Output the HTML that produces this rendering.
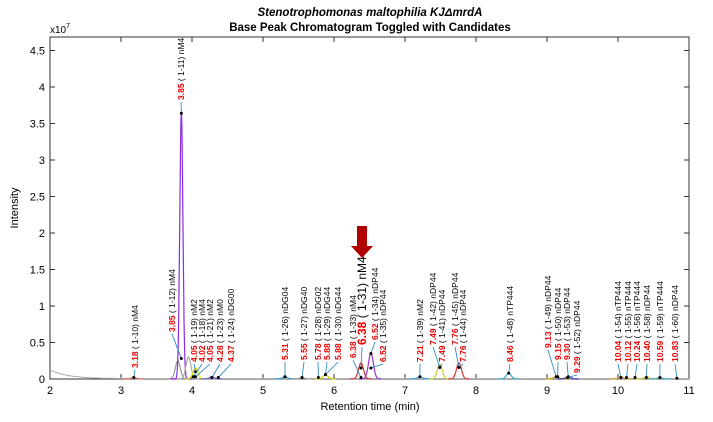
<!DOCTYPE html>
<html><head><meta charset="utf-8"><style>
body{margin:0;background:#fff;font-family:"Liberation Sans",Arial,sans-serif}
svg text{font-family:"Liberation Sans",Arial,sans-serif}
</style></head><body>
<svg id="chart" width="713" height="417" viewBox="0 0 713 417" xmlns="http://www.w3.org/2000/svg">
<text x="370" y="16" text-anchor="middle" font-size="11.5" font-weight="bold" font-style="italic">Stenotrophomonas maltophilia KJΔmrdA</text>
<text x="370" y="31" text-anchor="middle" font-size="11.5" font-weight="bold">Base Peak Chromatogram Toggled with Candidates</text>
<text x="50" y="33" font-size="10">x10<tspan dy="-5" font-size="7">7</tspan></text>
<text transform="translate(18,208) rotate(-90)" text-anchor="middle" font-size="11">Intensity</text>
<text x="370" y="410" text-anchor="middle" font-size="11">Retention time (min)</text>
<g id="plot"></g>
</svg>
<script>
const xTicks=[2,3,4,5,6,7,8,9,10,11];
const yTicks=[0,0.5,1,1.5,2,2.5,3,3.5,4,4.5];
const peakTimes=[3.18,3.80,3.85,3.95,4.05,4.28,5.31,5.55,5.88,6.38,6.52,7.21,7.49,7.76,8.46,9.13,9.30,10.04,10.40,10.59];
const peakHeights=[0.02,0.25,3.65,0.3,0.15,0.03,0.03,0.02,0.06,0.22,0.35,0.03,0.2,0.22,0.08,0.03,0.03,0.03,0.03,0.02];
const peakColors=["#e66","#999","#8a2be2","#aaa","#dd0","#66c","#39c","#999","#cc0","#c33","#93c","#39c","#cc3","#d33","#3ac","#c90","#33a","#c93","#cc3","#3ac"];
const candTimes=[3.18,3.85,3.85,4.05,4.02,4.05,4.28,4.37,5.31,5.55,5.78,5.88,5.88,6.38,6.38,6.52,6.52,7.21,7.49,7.49,7.76,7.76,8.46,9.13,9.15,9.30,9.29,10.04,10.12,10.24,10.40,10.59,10.83];
const candHeights=[0.02,3.64,0.28,0.1,0.03,0.03,0.02,0.02,0.03,0.02,0.02,0.06,0.06,0.02,0.15,0.35,0.15,0.03,0.16,0.16,0.16,0.16,0.08,0.03,0.03,0.03,0.02,0.02,0.02,0.02,0.02,0.02,0.01];
const candIds=["1-10","1-11","1-12","1-19","1-18","1-21","1-23","1-24","1-26","1-27","1-28","1-29","1-30","1-33","1-31","1-34","1-35","1-39","1-42","1-41","1-45","1-44","1-48","1-49","1-50","1-53","1-52","1-54","1-55","1-56","1-58","1-59","1-60"];
const candNames=["nM4","nM4","nM4","nM2","nM4","nM2","nM0","nDG00","nDG04","nDG40","nDG02","nDG44","nDG44","nM4","nM4","nDP44","nDP44","nM2","nDP44","nDP44","nDP44","nDP44","nTP444","nDP44","nDP44","nDP44","nDP44","nTP444","nTP444","nTP444","nDP44","nTP444","nDP44"];
const labelX=[135,181,172,194,202,210,220,231,285,304,318,327,338,353,362,375,383,420,433,442,455,463,510,548,558,567,577,618,628,637,647,660,675];
const labelBottom=[368,100,332,362,362,362,362,362,360,360,360,360,360,358,345,340,362,362,345,362,345,362,362,348,360,360,373,362,362,362,362,362,362];
const X0=50,X1=689,Y0=379,YT=37;
const xs=t=>X0+(t-2)/(9)*(X1-X0);
const ys=v=>Y0-v*73;
const NS="http://www.w3.org/2000/svg";
const g=document.getElementById('plot');
function mk(tag,at,parent){const e=document.createElementNS(NS,tag);for(const k in at)e.setAttribute(k,at[k]);(parent||g).appendChild(e);return e;}
const frame=mk('rect',{x:X0,y:YT,width:X1-X0,height:Y0-YT,fill:'none',stroke:'#333','stroke-width':1});


xTicks.forEach(t=>{const x=xs(t);
 mk('line',{x1:x,x2:x,y1:Y0,y2:Y0-5,stroke:'#333'});mk('line',{x1:x,x2:x,y1:YT,y2:YT+5,stroke:'#333'});
 const tx=mk('text',{x:x,y:Y0+15,'text-anchor':'middle','font-size':11});tx.textContent=t;
 
 });
yTicks.forEach(v=>{const y=ys(v);
 mk('line',{x1:X0,x2:X0+5,y1:y,y2:y,stroke:'#333'});mk('line',{x1:X1,x2:X1-5,y1:y,y2:y,stroke:'#333'});
 const tx=mk('text',{x:X0-5,y:y+4,'text-anchor':'end','font-size':11});tx.textContent=v;
 
 });
let d='';for(let t=2;t<=11;t+=0.01){const v=0.12*Math.exp(-(t-2)/0.25)+0.005;d+=(d?'L':'M')+xs(t).toFixed(1)+','+ys(v).toFixed(1);}
const bl=mk('path',{d:d,fill:'none',stroke:'#aaa','stroke-width':1});


peakTimes.forEach((p,i)=>{let dd='';for(let t=p-0.15;t<=p+0.15;t+=0.004){const v=peakHeights[i]*Math.exp(-Math.pow((t-p)/(i==2?0.022:0.035),2)/2);dd+=(dd?'L':'M')+xs(t).toFixed(1)+','+ys(v).toFixed(1);}
 const pe=mk('path',{d:dd,fill:'none',stroke:peakColors[i],'stroke-width':1.2});
 
 });
candTimes.forEach((t,i)=>{
 const big=candIds[i]==='1-31';
 const mx=xs(t),my=ys(candHeights[i]);
 mk('line',{x1:labelX[i],y1:labelBottom[i]+2,x2:mx,y2:my,stroke:'#1a7fc0','stroke-width':0.8});
 mk('circle',{cx:mx,cy:my,r:1.5,fill:'#000'});
 const tx=mk('text',{transform:`translate(${labelX[i]+(big?4:3)},${labelBottom[i]}) rotate(-90)`,'font-size':big?12:8.5});
 
 
 const a=mk('tspan',{fill:'#e00','font-weight':'bold'},tx);a.textContent=t.toFixed(2);
 const b=mk('tspan',{fill:'#000'},tx);b.textContent=' ( '+candIds[i]+') '+candNames[i];
});
const ar=mk('path',{d:'M357,226 h10 v20 h6 l-11,12 l-11,-12 h6 z',fill:'#b00000'});


</script>
</body></html>
